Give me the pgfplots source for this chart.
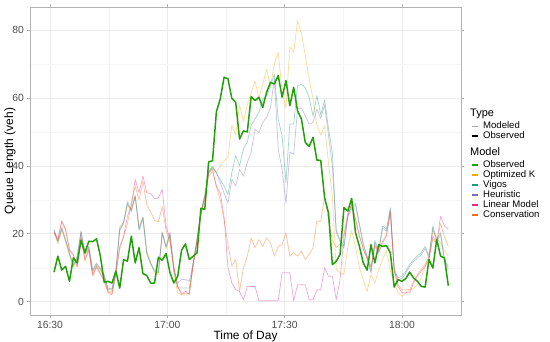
\documentclass[border=0pt]{standalone}
\usepackage{fontspec}
\setmainfont{Liberation Sans}
\usepackage{pgfplots}
\pgfplotsset{compat=1.18}
\usepackage{pgfplotstable}
\definecolor{obsc}{HTML}{22A00A}
\definecolor{optk}{HTML}{FFA500}
\definecolor{vigos}{HTML}{1B9E77}
\definecolor{heur}{HTML}{7570B3}
\definecolor{linm}{HTML}{E7298A}
\definecolor{cons}{HTML}{FF6A13}
\definecolor{gmaj}{HTML}{EBEBEB}
\definecolor{gmin}{HTML}{F5F5F5}
\definecolor{bord}{HTML}{B3B3B3}
\definecolor{tlab}{HTML}{4D4D4D}
\pgfplotstableread{
x obs optk vigos heur lin cons
31 8.7 20.6 21 21.4 20.4 20
32 13.4 17.1 17.5 17.9 18.4 18
33 9.3 21.1 21.5 21.9 23.9 23.5
34 10.4 17.6 18 18.4 21.4 21
35 6.0 13.6 14 14.4 15.4 15
36 12.9 10.1 10.5 10.9 13.9 13.5
37 11.4 12.6 13 13.4 10.4 10
38 18.1 20.1 20.5 20.9 18.9 18.5
39 14.4 13.6 14 14.4 12.4 12
40 17.8 15.6 16 16.4 15.4 15
41 17.7 8.6 9 9.4 7.9 7.5
42 18.5 10.6 11 11.4 10.4 10
43 13.4 9.1 9.5 9.9 8.4 8
44 5.7 7.1 7.5 7.9 6.4 6
45 6.0 3.1 3.5 3.9 2.9 2.5
46 5.5 3.1 3.5 3.9 2.4 2
47 9.0 8.6 9 9.4 8.4 8
48 4.0 22 21 21.4 16.3 15.5
49 12.4 23.5 23 23.4 19.3 19
50 11.9 28.5 29 29.4 25.2 23
51 19.3 27 26.5 26.9 28.2 29
52 11.4 31 31 31.4 36 34
53 15.9 22 21 21.4 32.1 30
54 8.3 25 24.5 24.9 37 35.5
55 7.7 15 14 14.4 32.1 28.5
56 5.5 11.5 11 11.4 31.8 26.5
57 5.5 8.5 9 9.4 30.3 24
58 13.1 8 8.5 8.9 30.6 23.5
59 12.2 20.5 20 20.4 33.1 28
60 14.2 15.5 16 16.4 22.3 21
61 8.5 19.5 20 20.4 18.3 17.5
62 5.5 8.5 9 9.4 10.4 10
63 7.5 2.5 4 5.5 4.5 4.5
64 15.2 2 4 6.5 2.1 2.5
65 17.0 2 4 6.5 3.1 2.5
66 12.4 2.5 4 6 2.1 2.5
67 13.4 11.5 11 11.4 11 10.5
68 14.4 18.5 18 18.4 18 18
69 27.5 26.5 26 26.4 26 25.5
70 27.2 31 31 31.4 30.5 30
71 41.2 38.5 38 38.4 38 37
72 41.5 39.5 39.5 39.9 39 38.5
73 55.9 38 38 38 34 34
74 59.7 40 36 35 32 30
75 66.1 41.5 34 32 25 24
76 65.6 42.5 31.6 29 10 16.8
77 59.9 52 38 36 5.5 10.4
78 58.7 49 43 34 3.5 12.4
79 47.9 58 40 39 3 3
80 50.3 53 45 37 0.6 10
81 50.0 58 47 41 4.5 13.4
82 60.4 61.6 52 44 4.5 18.8
83 59.2 65 53.8 50.8 4.5 15.9
84 60.2 60 55.7 49.8 0.3 18.3
85 57.2 64 59.7 52.8 0.3 16.3
86 61.7 68.5 60.7 54.3 0.3 18.8
87 64.6 63.5 63.6 57.2 0.3 17.3
88 64.1 70 67 65.6 0.3 13.4
89 66.6 73.5 53.8 45 0.3 16.3
90 60.2 62 48.8 39 8.5 16.8
91 65.1 57 35 29 8.5 20.3
92 57.7 75 52.3 44 8.5 13.4
93 63.1 73.5 52.3 43.4 0.3 14.4
94 56.2 82.8 63.6 56.7 5 13.4
95 53.8 79 64 57 5 14.9
96 46.9 72.5 63 54.7 5 12.4
97 45.7 65.6 60 52.3 0.6 13.9
98 48.4 59.7 54.7 52.8 0.6 15.9
99 41.7 52 60.7 56.7 3.5 23.7
100 41.6 49 55 54 3.5 23.7
101 30.6 51.8 59.5 58 10 31
102 26.2 41 51 49 7.5 24
103 10.9 31 44 40 7.5 18
104 11.9 9.5 21 20.4 0.6 16
105 13.9 8.5 18.3 17.7 6.5 17
106 27.7 8 16.3 15.7 19.3 20
107 26.7 16 25.5 24.9 25.2 26
108 30.4 21 28 27.4 29 28.5
109 20.3 16 29 28.4 24 24.5
110 16.3 10 23 22.4 19.3 19.5
111 11.4 6.5 17.3 16.7 15.4 15.5
112 9.3 3 13.4 12.8 13 12.5
113 16.8 8 9 8.4 10.4 10
114 11.4 5.5 18 17.4 16.3 16.8
115 16.8 9.5 15.4 14.8 14.4 14.8
116 16.3 12.4 22.3 21.7 17.3 17.8
117 16.5 15 21.3 20.7 19.3 19.8
118 14.4 9 27.7 27.1 26.2 26.5
119 4.3 5.5 9.5 8.9 9.4 9.6
120 6.5 2.6 7 6.4 4.5 5
121 6.0 1.6 7.5 6.9 2.6 3.5
122 6.8 2.5 9 8.4 2.6 3.5
123 8.7 3.5 11 10.4 2.6 3.5
124 7.0 4 12.4 11.8 5.5 6
125 6.0 5 13.5 12.9 7.5 8
126 4.5 7 14.4 13.8 9 9.5
127 4.3 10.4 16.3 15.7 10.4 11
128 12.4 13.4 13.4 12.8 12.4 13
129 9.9 20.8 22.3 21.7 19.3 18.5
130 18.3 18.8 18.3 17.7 17.3 17
131 13.4 17.3 20.3 19.7 25.2 23
132 12.9 15 12.4 11.8 22.3 19
133 4.7 13.4 10.4 9.8 21.3 16.3
}\data
\begin{document}
\begin{tikzpicture}
\useasboundingbox (0,0) rectangle (550bp,342bp);
\begin{axis}[
  at={(30bp,27bp)}, anchor=south west,
  width=431bp, height=308bp, scale only axis,
  xmin=24.79, xmax=136.28, ymin=-3.92, ymax=86.78,
  xtick={29.97,60.31,90.67,121.02},
  xticklabels={16:30,17:00,17:30,18:00},
  minor xtick={45.14,75.49,105.85},
  ytick={0,20,40,60,80},
  minor ytick={10,30,50,70},
  grid=both,
  major grid style={gmaj, line width=0.55bp},
  minor grid style={gmin, line width=0.3bp},
  axis line style={bord, line width=0.6bp},
  tick align=outside,
  major tick length=2.7bp,
  minor tick length=0pt,
  tick style={bord, line width=0.6bp},
  tick label style={font=\fontsize{10.4}{12}\selectfont, text=tlab},
  /pgf/number format/assume math mode=true,
  xlabel={Time of Day},
  ylabel={Queue Length (veh)},
  label style={font=\fontsize{12}{14}\selectfont},
  xlabel style={at={([yshift=-21bp]axis description cs:0.5,0)}, anchor=center},
  ylabel style={at={([xshift=-20bp]axis description cs:0,0.5)}, anchor=center},
  every axis plot/.append style={line join=round},
]
\addplot[no markers, optk, draw opacity=0.4, line width=0.75bp] table[x=x,y=optk]{\data};
\addplot[no markers, vigos, draw opacity=0.4, line width=0.75bp] table[x=x,y=vigos]{\data};
\addplot[no markers, heur, draw opacity=0.4, line width=0.75bp] table[x=x,y=heur]{\data};
\addplot[no markers, linm, draw opacity=0.4, line width=0.75bp] table[x=x,y=lin]{\data};
\addplot[no markers, cons, draw opacity=0.4, line width=0.75bp] table[x=x,y=cons]{\data};
\addplot[no markers, obsc, line width=1.5bp] table[x=x,y=obs]{\data};
\end{axis}
% legend
\begin{scope}[every node/.style={anchor=west, inner sep=0pt, text height=1.4ex, text depth=0.3ex}]
\node[font=\fontsize{11}{13}\selectfont] at (470bp,228bp) {Type};
\draw[black!35, line width=0.75bp] (471.5bp,216bp) -- (477.5bp,216bp);
\node[font=\fontsize{9.6}{11}\selectfont] at (483bp,216bp) {Modeled};
\draw[black, line width=1.5bp] (471.5bp,206bp) -- (477.5bp,206bp);
\node[font=\fontsize{9.6}{11}\selectfont] at (483bp,206bp) {Observed};
\node[font=\fontsize{11}{13}\selectfont] at (470bp,189bp) {Model};
\foreach \c/\t/\y in {obsc/Observed/177, optk/Optimized K/167, vigos/Vigos/157, heur/Heuristic/147, linm/Linear Model/137, cons/Conservation/127}{
  \draw[\c, line width=1.5bp] (471.5bp,\y bp) -- (477.5bp,\y bp);
  \node[font=\fontsize{9.6}{11}\selectfont] at (483bp,\y bp) {\t};
}
\end{scope}
\end{tikzpicture}
\end{document}
